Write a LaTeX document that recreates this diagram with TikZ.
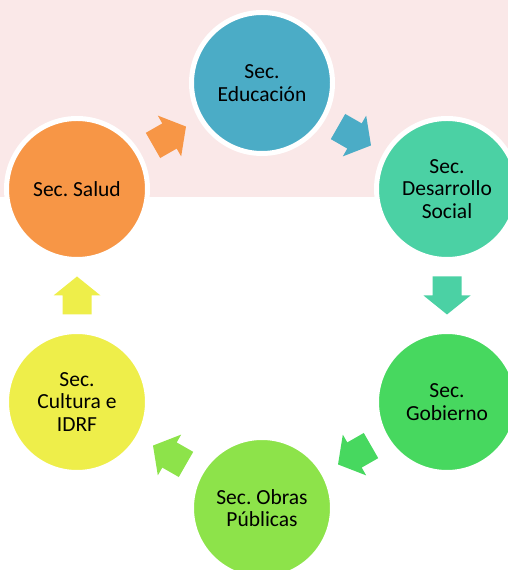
\documentclass[tikz,border=0pt]{standalone}
\usepackage{fontspec}
\setmainfont{Carlito}
\usetikzlibrary{calc}
\definecolor{bgpink}{HTML}{FAE8E8}
\definecolor{cSalud}{HTML}{F79646}
\definecolor{cEdu}{HTML}{4BACC6}
\definecolor{cDes}{HTML}{4BD1A4}
\definecolor{cGob}{HTML}{47D85F}
\definecolor{cObras}{HTML}{8DE34A}
\definecolor{cCult}{HTML}{EEEE4A}
\frenchspacing
\begin{document}
\begin{tikzpicture}[x=1bp,y=1bp,
  secbox/.style={circle,draw=white,line width=5bp,minimum size=141bp,inner sep=0pt,
    align=center,text=black,font=\fontsize{21.5bp}{22.7bp}\selectfont},
  pics/barrow/.style={code={
    \fill[#1] (-19,-14.5) -- (0,-14.5) -- (0,-23.5) -- (19,0) -- (0,23.5) -- (0,14.5) -- (-19,14.5) -- cycle;}}]
\useasboundingbox (0,0) rectangle (508,570);
\clip (0,0) rectangle (508,570);
\fill[bgpink] (0,373) rectangle (508,570);
\node[secbox,fill=cSalud] (salud) at (77,381) {Sec. Salud};
\node[secbox,fill=cEdu] (edu) at (262,487) {Sec.\\Educación};
\node[secbox,fill=cDes] (des) at (447,381) {Sec.\\Desarrollo\\Social};
\node[secbox,fill=cGob] (gob) at (447,168) {Sec.\\Gobierno};
\node[secbox,fill=cObras] (obras) at (262,62) {Sec. Obras\\Públicas};
\node[secbox,fill=cCult] (cult) at (77,168) {Sec.\\Cultura e\\IDRF};
\coordinate (m1) at ($(salud)!0.5!(edu)$);
\coordinate (m2) at ($(edu)!0.5!(des)$);
\coordinate (m3) at ($(des)!0.5!(gob)$);
\coordinate (m4) at ($(gob)!0.5!(obras)$);
\coordinate (m5) at ($(obras)!0.5!(cult)$);
\coordinate (m6) at ($(cult)!0.5!(salud)$);
\pic[rotate=29.8] at (m1) {barrow=cSalud};
\pic[rotate=-29.8] at (m2) {barrow=cEdu};
\pic[rotate=-90] at (m3) {barrow=cDes};
\pic[rotate=209.8] at (m4) {barrow=cGob};
\pic[rotate=150.2] at (m5) {barrow=cObras};
\pic[rotate=90] at (m6) {barrow=cCult};
\end{tikzpicture}
\end{document}
